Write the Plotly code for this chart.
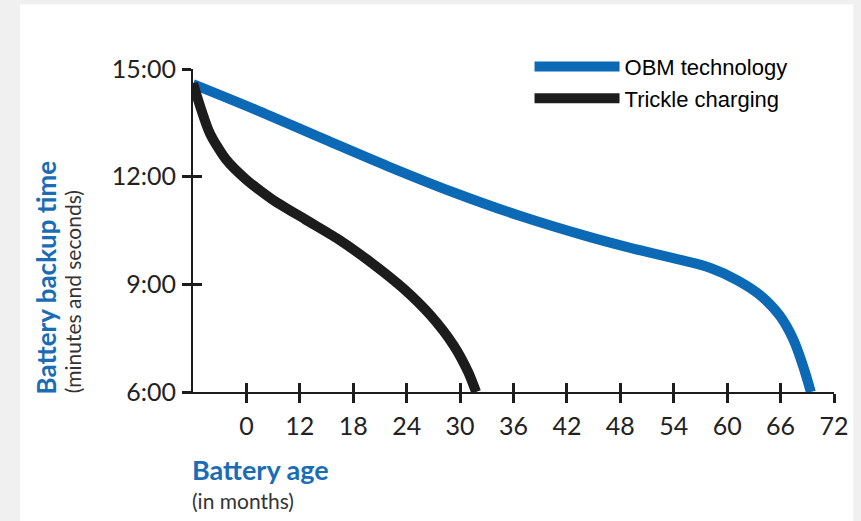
import plotly.graph_objects as go

# ---- data (months, backup time in minutes) ----
obm_age = [0.0, 7.0, 14.4, 21.9, 29.3, 36.7, 44.1, 48.9, 54.4, 58.2, 61.1, 63.7, 65.9, 67.4, 68.5, 69.4]
obm_time = [14.58, 13.87, 13.08, 12.29, 11.56, 10.91, 10.35, 10.03, 9.70, 9.45, 9.12, 8.70, 8.13, 7.48, 6.74, 6.0]

trickle_age = [0.0, 1.86, 3.71, 5.93, 8.89, 12.6, 16.3, 20.0, 23.7, 26.7, 29.3, 30.9, 31.8]
trickle_time = [14.6, 13.23, 12.48, 11.93, 11.37, 10.81, 10.26, 9.61, 8.87, 8.13, 7.29, 6.56, 6.0]

x_tickvals = [6, 12, 18, 24, 30, 36, 42, 48, 54, 60, 66, 72]
x_ticktext = ["0", "12", "18", "24", "30", "36", "42", "48", "54", "60", "66", "72"]
y_tickvals = [6, 9, 12, 15]
y_ticktext = ["6:00", "9:00", "12:00", "15:00"]

BLUE = "#0B69B5"
BLACK = "#1c1c1c"
TICKFONT = dict(family="Lato", size=25, color="#222222")

fig = go.Figure()
fig.add_trace(go.Scatter(x=obm_age, y=obm_time, mode="lines", name="OBM technology",
                         xaxis="x", yaxis="y",
                         line=dict(color=BLUE, width=10, shape="spline", smoothing=1.0)))
fig.add_trace(go.Scatter(x=trickle_age, y=trickle_time, mode="lines", name="Trickle charging",
                         xaxis="x2", yaxis="y2",
                         line=dict(color=BLACK, width=10, shape="spline", smoothing=0.7)))

axis_common = dict(showgrid=False, zeroline=False, showline=True, linecolor=BLACK, linewidth=2,
                   tickcolor=BLACK, tickwidth=2.5, ticklen=9)

fig.update_layout(
    width=861, height=521,
    margin=dict(l=193, r=19, t=69, b=129),
    paper_bgcolor="#f0f0f0", plot_bgcolor="white",
    showlegend=True,
    legend=dict(x=0.525, y=1.072, xanchor="left", yanchor="top", bgcolor="rgba(0,0,0,0)",
                font=dict(family="Liberation Sans, Arial", size=22, color="black"),
                tracegroupgap=0, itemwidth=85),
    xaxis=dict(range=[0, 72], tickvals=x_tickvals, ticktext=x_ticktext, ticks="outside",
               tickfont=TICKFONT, ticklabelstandoff=2, **axis_common),
    yaxis=dict(range=[6, 15], tickvals=y_tickvals, ticktext=y_ticktext, ticks="outside",
               tickfont=TICKFONT, ticklabelstandoff=1, **axis_common),
    xaxis2=dict(range=[0, 72], tickvals=x_tickvals, ticks="inside", showticklabels=False,
                overlaying="x", side="bottom", anchor="y2", **axis_common),
    yaxis2=dict(range=[6, 15], tickvals=y_tickvals, ticks="inside", showticklabels=False,
                overlaying="y", side="left", anchor="x2", **axis_common),
    shapes=[dict(type="rect", xref="paper", yref="paper", x0=-0.27, x1=1.03, y0=-0.4, y1=1.2,
                 fillcolor="white", line=dict(width=0), layer="below")],
    annotations=[
        dict(text="<b>Battery backup time</b>", xref="paper", yref="paper", x=-0.23, y=-0.015,
             xanchor="center", yanchor="bottom", textangle=-90, showarrow=False,
             font=dict(family="Lato", size=26, color="#1a6db5")),
        dict(text="(minutes and seconds)", xref="paper", yref="paper", x=-0.188, y=-0.01,
             xanchor="center", yanchor="bottom", textangle=-90, showarrow=False,
             font=dict(family="Lato", size=21, color="#333333")),
        dict(text="<b>Battery age</b>", xref="paper", yref="paper", x=-0.005, y=-0.24,
             xanchor="left", yanchor="middle", showarrow=False,
             font=dict(family="Lato", size=27, color="#1a6db5")),
        dict(text="(in months)", xref="paper", yref="paper", x=-0.005, y=-0.335,
             xanchor="left", yanchor="middle", showarrow=False,
             font=dict(family="Lato", size=21, color="#333333")),
    ],
)

fig.write_html("out.html", config={"displayModeBar": False},
               post_script="document.body.style.margin='0';")
